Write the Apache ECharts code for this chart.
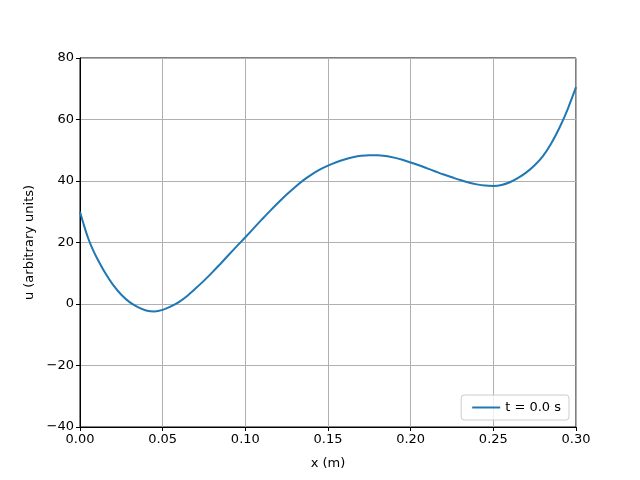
<!DOCTYPE html>
<html>
<head>
<meta charset="utf-8">
<script src="https://cdn.jsdelivr.net/npm/echarts@6/dist/echarts.min.js"></script>
<style>html,body{margin:0;padding:0;background:#fff}#c{width:640px;height:480px}</style>
</head>
<body>
<div id="c"></div>
<script>
var xValues = [0.000, 0.0025, 0.005, 0.0075, 0.010, 0.015, 0.020, 0.025, 0.030, 0.035, 0.040, 0.045, 0.050, 0.055, 0.060, 0.065, 0.070, 0.075, 0.080, 0.085, 0.090, 0.095, 0.100, 0.105, 0.110, 0.115, 0.120, 0.125, 0.130, 0.135, 0.140, 0.145, 0.150, 0.155, 0.160, 0.165, 0.170, 0.175, 0.180, 0.185, 0.190, 0.195, 0.200, 0.205, 0.210, 0.215, 0.220, 0.225, 0.230, 0.235, 0.240, 0.245, 0.250, 0.255, 0.260, 0.265, 0.270, 0.275, 0.280, 0.285, 0.290, 0.295, 0.300];
var uValues = [30.0, 25.4, 21.3, 18.0, 15.2, 10.3, 6.2, 3.0, 0.6, -1.0, -2.1, -2.4, -1.9, -0.8, 0.7, 2.7, 5.1, 7.6, 10.3, 13.1, 16.0, 18.9, 21.7, 24.6, 27.5, 30.3, 33.0, 35.6, 38.0, 40.2, 42.1, 43.7, 45.0, 46.1, 47.0, 47.7, 48.2, 48.4, 48.4, 48.1, 47.6, 46.9, 46.0, 45.1, 44.1, 43.1, 42.1, 41.2, 40.3, 39.5, 38.9, 38.5, 38.4, 38.7, 39.6, 41.0, 42.8, 45.1, 48.1, 52.2, 57.3, 63.4, 70.5];
var seriesName = 't = 0.0 s';
var xTicks = [0, 0.05, 0.10, 0.15, 0.20, 0.25, 0.30];
var yTicks = [-40, -20, 0, 20, 40, 60, 80];

var data = xValues.map(function (x, i) { return [x, uValues[i]]; });
var font = 'DejaVu Sans';
var chart = echarts.init(document.getElementById('c'), null, {renderer: 'canvas'});
chart.setOption({
  animation: false,
  backgroundColor: '#fff',
  grid: {left: 80, right: 64, top: 58, bottom: 53, show: true, borderColor: '#000', borderWidth: 1, backgroundColor: 'transparent'},
  xAxis: {
    type: 'value', min: xTicks[0], max: xTicks[xTicks.length - 1], interval: 0.05,
    name: 'x (m)', nameLocation: 'middle', nameGap: 30,
    nameTextStyle: {fontFamily: font, fontSize: 13, color: '#000'},
    axisLine: {show: true, onZero: false, lineStyle: {color: '#000', width: 1}},
    axisTick: {show: true, length: 4, lineStyle: {color: '#000'}},
    axisLabel: {fontFamily: font, fontSize: 13, color: '#000', margin: 6,
      formatter: function (v) { return v.toFixed(2); }},
    splitLine: {show: true, lineStyle: {color: '#b0b0b0', width: 1}}
  },
  yAxis: {
    type: 'value', min: yTicks[0], max: yTicks[yTicks.length - 1], interval: 20,
    name: 'u (arbitrary units)', nameLocation: 'middle', nameGap: 44, nameRotate: 90,
    nameTextStyle: {fontFamily: font, fontSize: 13, color: '#000'},
    axisLine: {show: true, onZero: false, lineStyle: {color: '#000', width: 1}},
    axisTick: {show: true, length: 4, lineStyle: {color: '#000'}},
    axisLabel: {fontFamily: font, fontSize: 13, color: '#000', margin: 6,
      formatter: function (v) { return String(v).replace('-', '\u2212'); }},
    splitLine: {show: true, lineStyle: {color: '#b0b0b0', width: 1}}
  },
  legend: {
    right: 71, bottom: 60, orient: 'vertical',
    data: [{name: seriesName, icon: 'path://M0,0 L1,0 L1,0.07 L0,0.07 Z'}],
    itemWidth: 28, itemHeight: 2, itemGap: 4,
    padding: [6, 8, 6, 11],
    backgroundColor: 'rgba(255,255,255,0.8)', borderColor: '#cccccc', borderWidth: 1, borderRadius: 3,
    textStyle: {fontFamily: font, fontSize: 13, color: '#000'}
  },
  series: [{
    name: seriesName, type: 'line', data: data, smooth: 0.25, showSymbol: false,
    lineStyle: {color: '#1f77b4', width: 2}, itemStyle: {color: '#1f77b4'}
  }]
});
</script>
</body>
</html>
